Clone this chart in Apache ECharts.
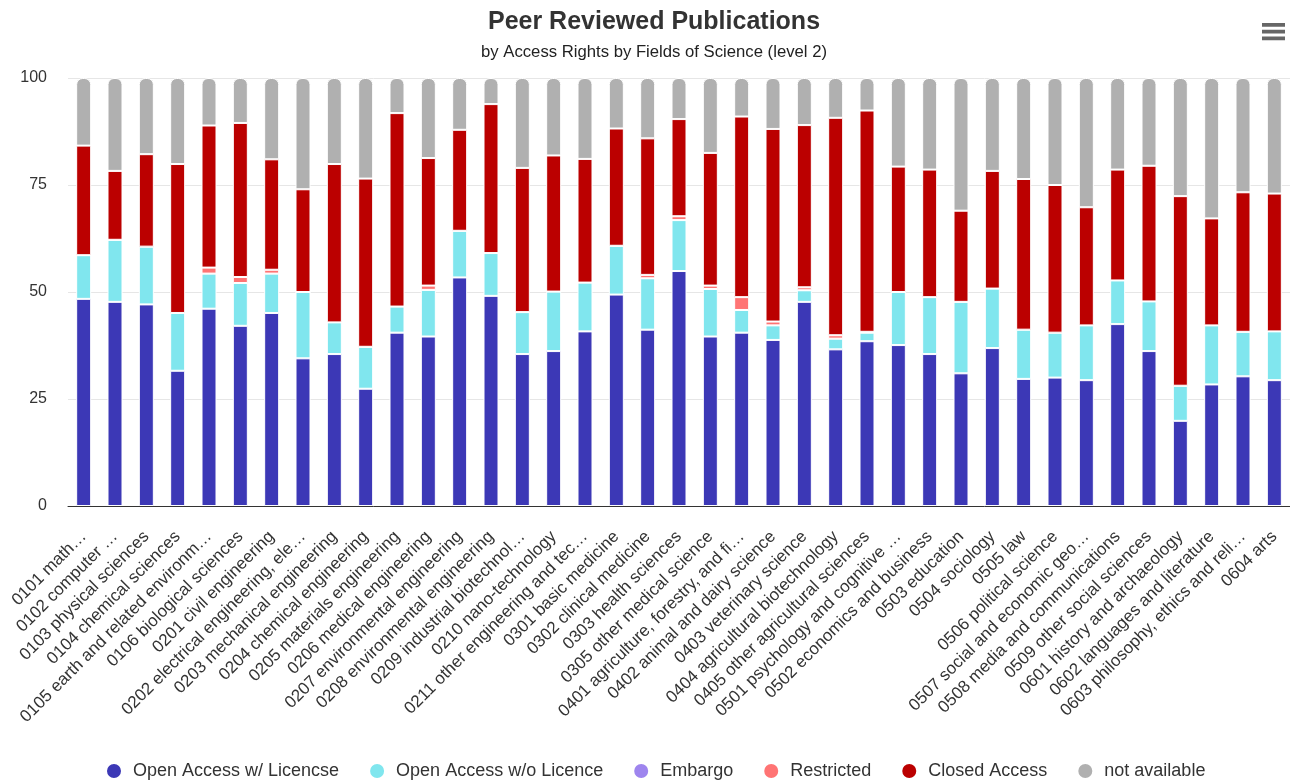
<!DOCTYPE html>
<html>
<head>
<meta charset="utf-8">
<title>Peer Reviewed Publications</title>
<script src="https://cdn.jsdelivr.net/npm/echarts@6/dist/echarts.min.js"></script>
<style>
    html, body { margin: 0; padding: 0; background: #fff; }
    #main-graph { width: 1290px; height: 781px; }
</style>
</head>
<body>
<div id="main-graph"></div>
<script>
// fields of science (level 2), labels already cut like in the source
let fields = [
    '0101 math…', '0102 computer …', '0103 physical sciences', '0104 chemical sciences',
    '0105 earth and related environm…', '0106 biological sciences', '0201 civil engineering',
    '0202 electrical engineering, ele…', '0203 mechanical engineering', '0204 chemical engineering',
    '0205 materials engineering', '0206 medical engineering', '0207 environmental engineering',
    '0208 environmental engineering', '0209 industrial biotechnol…', '0210 nano-technology',
    '0211 other engineering and tec…', '0301 basic medicine', '0302 clinical medicine',
    '0303 health sciences', '0305 other medical science', '0401 agriculture, forestry, and fi…',
    '0402 animal and dairy science', '0403 veterinary science', '0404 agricultural biotechnology',
    '0405 other agricultural sciences', '0501 psychology and cognitive …', '0502 economics and business',
    '0503 education', '0504 sociology', '0505 law', '0506 political science',
    '0507 social and economic geo…', '0508 media and communications', '0509 other social sciences',
    '0601 history and archaeology', '0602 languages and literature', '0603 philosophy, ethics and reli…',
    '0604 arts'
];

// shares in percent
let openLicence = [48.4, 47.7, 47.1, 31.6, 46.1, 42.1, 45.1, 34.5, 35.5, 27.4,
    40.5, 39.6, 53.4, 49.1, 35.5, 36.2, 40.8, 49.4, 41.2, 54.9,
    39.6, 40.5, 38.8, 47.7, 36.6, 38.5, 37.6, 35.5, 31.0, 36.9,
    29.7, 30.0, 29.4, 42.5, 36.2, 19.9, 28.4, 30.3, 29.4];
let openNoLicence = [10.2, 14.5, 13.5, 13.5, 8.2, 10.0, 9.2, 15.5, 7.4, 9.8,
    6.1, 10.9, 10.9, 10.0, 9.8, 13.9, 11.4, 11.4, 12.0, 11.9,
    11.1, 5.3, 3.4, 2.7, 2.5, 2.0, 12.4, 13.3, 16.7, 13.9,
    11.5, 10.5, 12.8, 10.2, 11.6, 8.2, 13.8, 10.4, 11.4];
let embargo = [0, 0, 0, 0, 0, 0, 0, 0, 0, 0,
    0, 0, 0, 0, 0, 0, 0, 0, 0, 0,
    0, 0, 0, 0, 0, 0, 0, 0, 0, 0,
    0, 0, 0, 0, 0, 0, 0, 0, 0];
let restricted = [0, 0, 0, 0, 1.4, 1.4, 0.9, 0, 0, 0,
    0, 1.0, 0, 0, 0, 0, 0, 0, 0.8, 0.9,
    0.8, 3.0, 0.9, 0.7, 0.8, 0.2, 0, 0, 0, 0,
    0, 0, 0, 0, 0, 0, 0, 0, 0];
let closedAccess = [25.6, 16.1, 21.6, 34.8, 33.2, 36.0, 25.8, 24.0, 37.0, 39.3,
    45.2, 29.8, 23.6, 34.8, 33.7, 31.8, 28.9, 27.4, 31.9, 22.7,
    31.0, 42.2, 45.0, 37.9, 50.8, 51.7, 29.3, 29.8, 21.3, 27.5,
    35.2, 34.5, 27.6, 25.9, 31.7, 44.3, 25.0, 32.6, 32.2];
let notAvailable = [15.8, 21.7, 17.8, 20.1, 11.1, 10.5, 19.0, 26.0, 20.1, 23.5,
    8.2, 18.7, 12.1, 6.1, 21.0, 18.1, 18.9, 11.8, 14.1, 9.6,
    17.5, 9.0, 11.9, 11.0, 9.3, 7.6, 20.7, 21.4, 31.0, 21.7,
    23.6, 25.0, 30.2, 21.4, 20.5, 27.6, 32.8, 26.7, 27.0];

let yTicks = [0, 25, 50, 75, 100];

let fontName = '"Liberation Sans", Arial, Helvetica, sans-serif';

function makeSeries(name, color, data, radius) {
    return {
        name: name,
        type: 'bar',
        stack: 'access',
        barWidth: 15,
        data: data,
        itemStyle: {
            color: color,
            borderColor: '#ffffff',
            borderWidth: 1,
            borderRadius: radius || 0
        },
        emphasis: { disabled: true }
    };
}

let mychart = echarts.init(document.getElementById('main-graph'));

let option = {
    animation: false,
    backgroundColor: '#ffffff',
    textStyle: { fontFamily: fontName },
    title: {
        text: 'Peer Reviewed Publications',
        subtext: 'by Access Rights by Fields of Science (level 2)',
        left: 649,
        textAlign: 'center',
        top: 5,
        itemGap: 9,
        textStyle: { fontFamily: fontName, fontSize: 25, fontWeight: 'bold', color: '#333333' },
        subtextStyle: { fontFamily: fontName, fontSize: 16.7, color: '#222222' }
    },
    toolbox: {
        right: -10,
        top: 8,
        itemSize: 23,
        feature: {
            myMenu: {
                show: true,
                title: '',
                icon: 'path://M0 0h24v4H0z M0 7h24v4H0z M0 14h24v4H0z',
                onclick: function () {}
            }
        },
        iconStyle: { color: '#666666', borderWidth: 0 }
    },
    legend: {
        top: 757,
        left: 100,
        icon: 'circle',
        itemWidth: 16,
        itemHeight: 16,
        itemGap: 29,
        textStyle: { fontFamily: fontName, fontSize: 18, color: '#333333', padding: [0, 0, 0, 6] },
        data: ['Open Access w/ Licencse', 'Open Access w/o Licence', 'Embargo', 'Restricted', 'Closed Access', 'not available']
    },
    grid: {
        left: 68,
        right: 0,
        top: 78,
        bottom: 275
    },
    xAxis: {
        type: 'category',
        data: fields,
        axisLine: { lineStyle: { color: '#333333', width: 1 } },
        axisTick: { show: false },
        axisLabel: {
            interval: 0,
            rotate: 45,
            margin: 28,
            fontFamily: fontName,
            fontSize: 17,
            color: '#333333'
        }
    },
    yAxis: {
        type: 'value',
        min: yTicks[0],
        max: yTicks[yTicks.length - 1],
        interval: 25,
        axisLine: { show: false },
        axisTick: { show: false },
        splitLine: { lineStyle: { color: '#e6e6e6', width: 1 } },
        axisLabel: {
            margin: 21,
            fontFamily: fontName,
            fontSize: 16,
            color: '#333333'
        }
    },
    series: [
        makeSeries('Open Access w/ Licencse', '#3c38b6', openLicence),
        makeSeries('Open Access w/o Licence', '#80e6ee', openNoLicence),
        makeSeries('Embargo', '#9e85ee', embargo),
        makeSeries('Restricted', '#ff7474', restricted),
        makeSeries('Closed Access', '#bb0000', closedAccess),
        makeSeries('not available', '#b0b0b0', notAvailable, [6, 6, 0, 0])
    ]
};

mychart.setOption(option);
</script>
</body>
</html>
